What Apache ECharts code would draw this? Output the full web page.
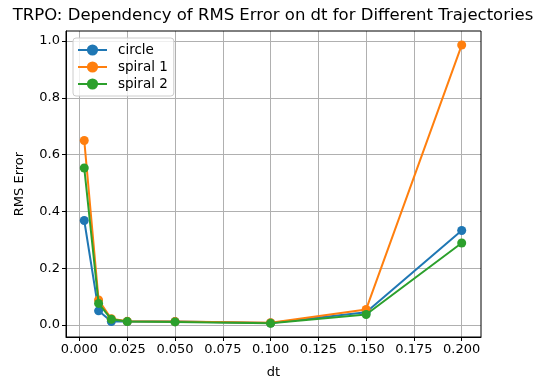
<!DOCTYPE html>
<html>
<head>
<meta charset="utf-8">
<script src="https://cdn.jsdelivr.net/npm/echarts@6/dist/echarts.min.js"></script>
<style>html,body{margin:0;padding:0;background:#fff}#c{width:546px;height:390px}</style>
</head>
<body>
<div id="c"></div>
<script>
const dtValues = [0.0025, 0.01, 1/60, 0.025, 0.05, 0.1, 0.15, 0.2];
const circle  = [0.368, 0.050, 0.012, 0.012, 0.012, 0.007, 0.045, 0.333];
const spiral1 = [0.650, 0.088, 0.022, 0.013, 0.012, 0.008, 0.055, 0.986];
const spiral2 = [0.553, 0.076, 0.020, 0.012, 0.011, 0.006, 0.037, 0.289];
const xTicks = [0, 0.025, 0.05, 0.075, 0.1, 0.125, 0.15, 0.175, 0.2];
const yTicks = [0, 0.2, 0.4, 0.6, 0.8, 1.0];
const seriesNames = ['circle', 'spiral 1', 'spiral 2'];
const seriesColors = ['#1f77b4', '#ff7f0e', '#2ca02c'];
const seriesData = [circle, spiral1, spiral2];

const font = 'DejaVu Sans';
const chart = echarts.init(document.getElementById('c'), null, {renderer: 'canvas'});
chart.setOption({
  animation: false,
  backgroundColor: '#fff',
  title: {
    text: 'TRPO: Dependency of RMS Error on dt for Different Trajectories',
    left: 'center', top: 2,
    textStyle: {fontFamily: font, fontSize: 16.5, fontWeight: 'normal', color: '#000'}
  },
  legend: {
    orient: 'vertical', left: 73, top: 38,
    data: seriesNames,
    itemWidth: 29, itemHeight: 14, itemGap: 3,
    padding: [5, 6, 5, 4],
    backgroundColor: 'rgba(255,255,255,0.8)',
    borderColor: '#cccccc', borderWidth: 1, borderRadius: 3,
    textStyle: {fontFamily: font, fontSize: 13.5, color: '#000', padding: [0,0,0,6]}
  },
  grid: {left: 66, right: 65, top: 31, bottom: 53, containLabel: false, show: false},
  xAxis: {
    type: 'value', min: -0.00705, max: 0.2101,
    name: 'dt', nameLocation: 'middle', nameGap: 29,
    nameTextStyle: {fontFamily: font, fontSize: 13, color: '#000'},
    axisLine: {onZero: false, lineStyle: {color: '#000', width: 1}},
    axisTick: {customValues: xTicks, length: 4, lineStyle: {color: '#000'}},
    axisLabel: {customValues: xTicks, formatter: v => v.toFixed(3), fontFamily: font, fontSize: 13, color: '#000', margin: 6},
    splitLine: {show: true, lineStyle: {color: '#b0b0b0', width: 1}}
  },
  yAxis: {
    type: 'value', min: -0.0422, max: 1.0355,
    name: 'RMS Error', nameLocation: 'middle', nameGap: 40, nameRotate: 90,
    nameTextStyle: {fontFamily: font, fontSize: 13, color: '#000'},
    axisLine: {show: true, onZero: false, lineStyle: {color: '#000', width: 1}},
    axisTick: {show: true, customValues: yTicks, length: 4, lineStyle: {color: '#000'}},
    axisLabel: {customValues: yTicks, formatter: v => v.toFixed(1), fontFamily: font, fontSize: 13, color: '#000', margin: 6},
    splitLine: {show: true, lineStyle: {color: '#b0b0b0', width: 1}}
  },
  graphic: [{
    type: 'rect', shape: {x: 66, y: 31, width: 415, height: 306},
    style: {fill: 'none', stroke: '#000', lineWidth: 1}, z: 100, silent: true
  }],
  series: seriesNames.map((n, i) => ({
    name: n, type: 'line',
    data: dtValues.map((x, j) => [x, seriesData[i][j]]),
    color: seriesColors[i],
    symbol: 'circle', symbolSize: 9, showSymbol: true,
    lineStyle: {width: 2, color: seriesColors[i]},
    itemStyle: {color: seriesColors[i]},
    z: 2 + i
  }))
});
</script>
</body>
</html>
